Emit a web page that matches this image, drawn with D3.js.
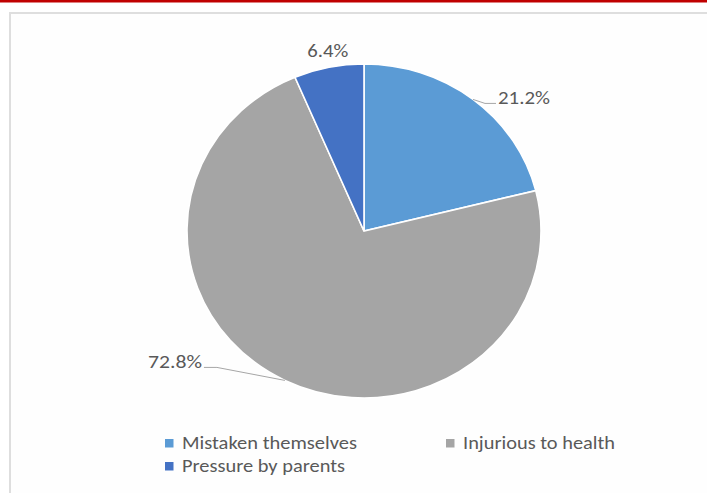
<!DOCTYPE html>
<html>
<head>
<meta charset="utf-8">
<script src="https://cdn.jsdelivr.net/npm/d3@7"></script>
<style>
  html, body { margin: 0; padding: 0; background: #ffffff; }
  svg { display: block; }
  text { font-family: Calibri, Carlito, Lato, "Open Sans", sans-serif; fill: #595959; }
</style>
</head>
<body>
<script>
// Reasons reported, share of respondents (%)
const categories = ["Mistaken themselves", "Injurious to health", "Pressure by parents"];
const values = [21.2, 72.8, 6.4];
const labels = ["21.2%", "72.8%", "6.4%"];
const colors = ["#5B9BD5", "#A5A5A5", "#4472C4"];

const W = 707, H = 493;
const cx = 364, cy = 231;
const ry = 167, rx = 177;          // pie is drawn slightly wider than tall
const sx = rx / ry;

const svg = d3.select("body").append("svg")
  .attr("width", W).attr("height", H);

// top accent bar
svg.append("rect").attr("x", 0).attr("y", 0).attr("width", W).attr("height", 2.5)
  .attr("fill", "#C00000");

// chart frame
svg.append("rect").attr("x", 10).attr("y", 13).attr("width", W + 20).attr("height", H + 20)
  .attr("fill", "#fefefe").attr("stroke", "#dedede").attr("stroke-width", 2);

const pie = d3.pie().sort(null).value(d => d);
const arcs = pie(values);
const arc = d3.arc().innerRadius(0).outerRadius(ry);
const edge = d3.arc().innerRadius(ry).outerRadius(ry);

const g = svg.append("g").attr("transform", `translate(${cx},${cy}) scale(${sx},1)`);
g.selectAll("path").data(arcs).join("path")
  .attr("d", arc)
  .attr("fill", (d, i) => colors[i])
  .attr("stroke", "#ffffff")
  .attr("stroke-width", 1.6)
  .attr("vector-effect", "non-scaling-stroke");

// point on the pie rim at the middle of slice i
function rim(i) {
  const c = edge.centroid(arcs[i]);
  return [cx + c[0] * sx, cy + c[1]];
}

const leader = d3.line();
const lineColor = "#a6a6a6";

// 21.2% label with leader
{
  const p = rim(0);
  svg.append("path").attr("d", leader([p, [p[0] + 12, p[1] + 4], [p[0] + 23, p[1] + 4]]))
    .attr("fill", "none").attr("stroke", lineColor).attr("stroke-width", 1);
  svg.append("text").attr("x", p[0] + 25).attr("y", p[1] + 5)
    .attr("font-size", 18).attr("textLength", 52).attr("lengthAdjust", "spacingAndGlyphs")
    .text(labels[0]);
}

// 72.8% label with leader
{
  const p = rim(1);
  svg.append("path").attr("d", leader([p, [p[0] - 68, p[1] - 13], [p[0] - 81, p[1] - 13]]))
    .attr("fill", "none").attr("stroke", lineColor).attr("stroke-width", 1);
  svg.append("text").attr("x", p[0] - 83).attr("y", p[1] - 12.5)
    .attr("text-anchor", "end")
    .attr("font-size", 18).attr("textLength", 54).attr("lengthAdjust", "spacingAndGlyphs")
    .text(labels[1]);
}

// 6.4% label, sits just above its slice
{
  const p = rim(2);
  svg.append("text").attr("x", p[0] - 1).attr("y", 56.5)
    .attr("text-anchor", "middle")
    .attr("font-size", 18).attr("textLength", 41).attr("lengthAdjust", "spacingAndGlyphs")
    .text(labels[2]);
}

// legend
const legendPos = [[165, 449, 175], [446, 449, 152], [165, 472, 163]];
const lg = svg.append("g");
categories.forEach((c, i) => {
  const [x, y, tw] = legendPos[i];
  lg.append("rect").attr("x", x).attr("y", y - 10).attr("width", 8.5).attr("height", 8.5)
    .attr("fill", colors[i]);
  lg.append("text").attr("x", x + 17).attr("y", y)
    .attr("font-size", 18).attr("textLength", tw).attr("lengthAdjust", "spacingAndGlyphs")
    .text(c);
});
</script>
</body>
</html>
